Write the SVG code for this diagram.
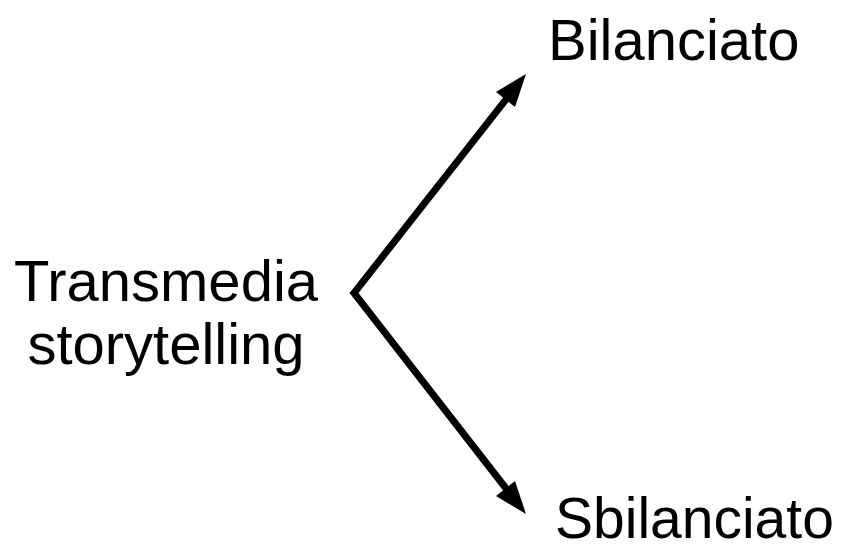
<svg xmlns="http://www.w3.org/2000/svg" width="846" height="545" viewBox="0 0 846 545">
<style>
.t{font-family:"Liberation Sans",Arial,sans-serif;font-size:58px;fill:#000}
.c{fill:none;stroke:#000;stroke-width:7;stroke-linejoin:miter}
</style>
<rect width="846" height="545" fill="#fff"/>
<g id="source"><text class="t" x="166" y="301" text-anchor="middle">Transmedia</text><text class="t" x="166" y="364" text-anchor="middle">storytelling</text></g>
<g id="bilanciato"><text class="t" x="548" y="60">Bilanciato</text></g>
<g id="sbilanciato"><text class="t" x="555" y="538" style="font-size:57px">Sbilanciato</text></g>
<g id="connectors">
<path class="c" d="M508,97 L354,293 L508,491"/>
<polygon points="526,74 515,107 496,92"/>
<polygon points="526,514 496,496 515,481"/>
</g>
</svg>
